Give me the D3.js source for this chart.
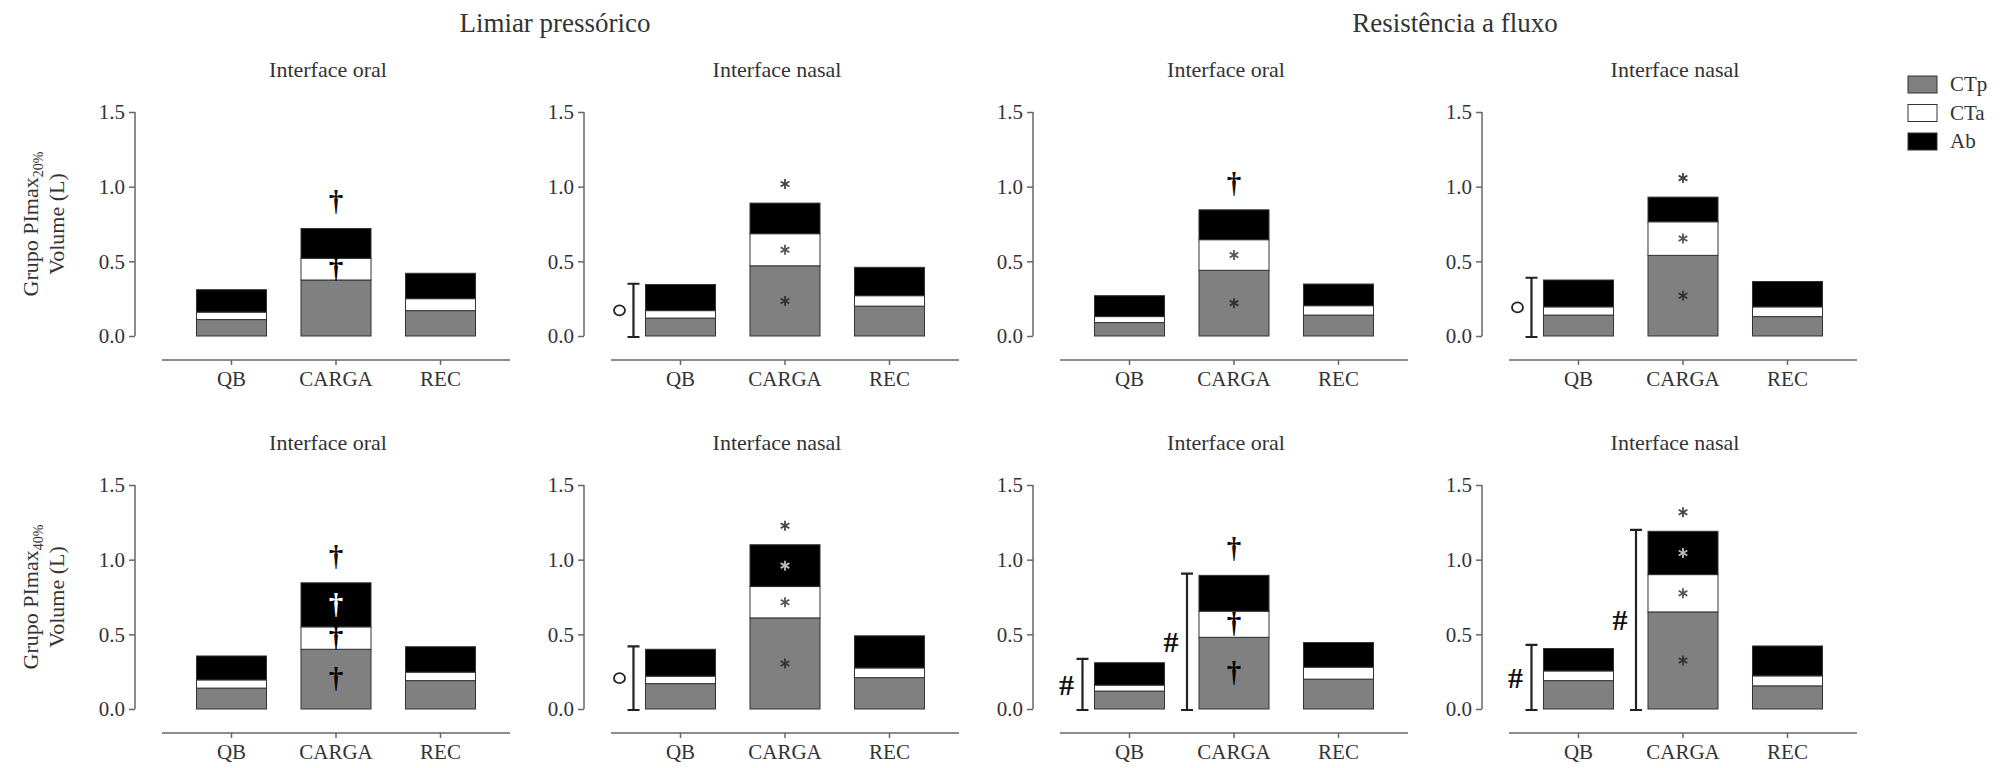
<!DOCTYPE html>
<html>
<head>
<meta charset="utf-8">
<script src="https://cdn.jsdelivr.net/npm/d3@7"></script>
<style>
  body { margin: 0; background: #fff; }
  svg text { font-family: "Liberation Serif", "DejaVu Serif", serif; fill: #333; }
</style>
</head>
<body>
<svg id="chart" width="2011" height="768"></svg>
<script>
var categories = ["QB", "CARGA", "REC"];
var segments = ["CTp", "CTa", "Ab"];
var segmentColors = ["#808080", "#ffffff", "#000000"];
var methodTitles = ["Limiar pressórico", "Resistência a fluxo"];
var interfaceTitles = ["Interface oral", "Interface nasal", "Interface oral", "Interface nasal"];
var groupLabels = ["20%", "40%"];
var yTicks = [0, 0.5, 1.0, 1.5];

// panels: top row (PImax20%) left to right, then bottom row (PImax40%)
var ctpValues = [
	[0.11, 0.375, 0.17], [0.12, 0.47, 0.20], [0.09, 0.44, 0.14], [0.14, 0.54, 0.13],
	[0.14, 0.40, 0.19], [0.17, 0.61, 0.21], [0.12, 0.48, 0.20], [0.19, 0.65, 0.155]
];
var ctaValues = [
	[0.05, 0.145, 0.08], [0.05, 0.215, 0.07], [0.04, 0.205, 0.063], [0.055, 0.225, 0.065],
	[0.055, 0.15, 0.057], [0.05, 0.21, 0.065], [0.04, 0.175, 0.08], [0.065, 0.25, 0.067]
];
var abValues = [
	[0.15, 0.20, 0.17], [0.175, 0.205, 0.19], [0.14, 0.20, 0.145], [0.18, 0.165, 0.17],
	[0.16, 0.295, 0.17], [0.18, 0.28, 0.215], [0.15, 0.24, 0.165], [0.15, 0.29, 0.20]
];

// significance marks: panel, category, segment (3 = above bar), symbol
var marks = [
	[0, 1, 3, "†"], [0, 1, 1, "†"],
	[1, 1, 3, "*"], [1, 1, 1, "*"], [1, 1, 0, "*"],
	[2, 1, 3, "†"], [2, 1, 1, "*"], [2, 1, 0, "*"],
	[3, 1, 3, "*"], [3, 1, 1, "*"], [3, 1, 0, "*"],
	[4, 1, 3, "†"], [4, 1, 2, "†"], [4, 1, 1, "†"], [4, 1, 0, "†"],
	[5, 1, 3, "*"], [5, 1, 2, "*"], [5, 1, 1, "*"], [5, 1, 0, "*"],
	[6, 1, 3, "†"], [6, 1, 1, "†"], [6, 1, 0, "†"],
	[7, 1, 3, "*"], [7, 1, 2, "*"], [7, 1, 1, "*"], [7, 1, 0, "*"]
];
// brackets: panel, category, top value, symbol
var brackets = [
	[1, 0, 0.35, "o"], [3, 0, 0.39, "o"], [5, 0, 0.42, "o"],
	[6, 0, 0.335, "#"], [6, 1, 0.906, "#"], [7, 0, 0.43, "#"], [7, 1, 1.2, "#"]
];

var svg = d3.select("#chart");
var axisColor = "#666";
var firstAxisX = 135, colStep = 449;
var rowBase = [336, 709];
var plotHeight = 224;

// main titles
methodTitles.forEach(function(t, i){
	svg.append("text")
		.attr("x", [555, 1455][i])
		.attr("y", 32)
		.attr("text-anchor", "middle")
		.attr("font-size", 27)
		.text(t);
});

// y titles
groupLabels.forEach(function(g, r){
	var midY = rowBase[r] - plotHeight/2;
	var t1 = svg.append("text")
		.attr("transform", "translate(30," + midY + ") rotate(-90)")
		.attr("text-anchor", "middle")
		.attr("dy", "0.35em")
		.attr("font-size", 22);
	t1.append("tspan").text("Grupo PImax");
	t1.append("tspan").attr("font-size", 14).attr("dy", 5).text(g);
	svg.append("text")
		.attr("transform", "translate(56," + midY + ") rotate(-90)")
		.attr("text-anchor", "middle")
		.attr("dy", "0.35em")
		.attr("font-size", 22)
		.text("Volume (L)");
});

function asterisk(g, x, y, color)
{
	var r = 5;
	for(var k = 0; k < 3; k++)
	{
		var a = Math.PI/2 + k*Math.PI/3;
		g.append("line")
			.attr("x1", x - r*Math.cos(a)).attr("y1", y - r*Math.sin(a))
			.attr("x2", x + r*Math.cos(a)).attr("y2", y + r*Math.sin(a))
			.attr("stroke", color).attr("stroke-width", 1.8);
	}
}

for(var p = 0; p < 8; p++)
{
	var row = Math.floor(p/4), col = p % 4;
	var ax = firstAxisX + col*colStep;
	var y0 = rowBase[row];
	var g = svg.append("g").attr("class", "panel-" + p);

	var x = d3.scaleBand().domain(categories).range([ax + 27, ax + 375]).padding(0.33);
	var y = d3.scaleLinear().domain([0, 1.5]).range([y0, y0 - plotHeight]);

	g.append("text")
		.attr("x", ax + 193)
		.attr("y", y0 - plotHeight - 35)
		.attr("text-anchor", "middle")
		.attr("font-size", 22)
		.text(interfaceTitles[col]);

	var yAxis = g.append("g")
		.attr("transform", "translate(" + ax + ",0)")
		.call(d3.axisLeft(y).tickValues(yTicks).tickFormat(d3.format(".1f")).tickSize(6).tickPadding(4));
	yAxis.select(".domain").attr("stroke", axisColor).attr("stroke-width", 1.5).attr("d", "M0," + y(1.5) + "V" + y(0));
	yAxis.selectAll(".tick line").attr("stroke", axisColor).attr("stroke-width", 1.5);
	yAxis.selectAll(".tick text").attr("font-size", 21).attr("fill", "#555")
		.attr("font-family", "Liberation Serif");

	var xAxis = g.append("g")
		.attr("transform", "translate(0," + (y0 + 24) + ")")
		.call(d3.axisBottom(x).tickSize(5).tickSizeOuter(0).tickPadding(6));
	xAxis.select(".domain").attr("stroke", axisColor).attr("stroke-width", 1.5)
		.attr("d", "M" + (ax + 27) + ",0H" + (ax + 375));
	xAxis.selectAll(".tick line").attr("stroke", axisColor).attr("stroke-width", 1.5);
	xAxis.selectAll(".tick text").attr("font-size", 21).attr("fill", "#333")
		.attr("font-family", "Liberation Serif");

	var rows = categories.map(function(c, i){
		return { cat: c, CTp: ctpValues[p][i], CTa: ctaValues[p][i], Ab: abValues[p][i] };
	});
	var stacked = d3.stack().keys(segments)(rows);

	g.selectAll("g.layer")
		.data(stacked).enter()
		.append("g")
		.attr("class", "layer")
		.attr("fill", function(d, i){ return segmentColors[i]; })
		.selectAll("rect")
		.data(function(d){ return d; }).enter()
		.append("rect")
		.attr("x", function(d){ return x(d.data.cat); })
		.attr("width", x.bandwidth())
		.attr("y", function(d){ return y(d[1]); })
		.attr("height", function(d){ return y(d[0]) - y(d[1]); })
		.attr("stroke", "#333")
		.attr("stroke-width", 1);

	marks.filter(function(m){ return m[0] === p; }).forEach(function(m){
		var cat = categories[m[1]];
		var cx = x(cat) + x.bandwidth()/2;
		var top = stacked[2][m[1]][1];
		var cy, color;
		if(m[2] === 3)
		{
			cy = y(top) - (m[3] === "†" ? 26 : 19);
			color = m[3] === "†" ? "#111" : "#444";
		}
		else
		{
			var seg = stacked[m[2]][m[1]];
			cy = (y(seg[0]) + y(seg[1]))/2;
			color = m[2] === 2 ? "#fff" : (m[2] === 1 ? "#555" : "#333");
			if(m[3] === "*" && m[2] === 2) color = "#bbb";
			if(m[3] === "†" && m[2] !== 2) color = "#000";
		}
		if(m[3] === "*")
		{
			asterisk(g, cx, cy, color);
		}
		else
		{
			g.append("text")
				.attr("x", cx)
				.attr("y", cy)
				.attr("dy", "0.3em")
				.attr("text-anchor", "middle")
				.attr("font-size", 29)
				.attr("font-weight", "bold")
				.style("fill", color)
				.text(m[3]);
		}
	});

	brackets.filter(function(b){ return b[0] === p; }).forEach(function(b){
		var bx = x(categories[b[1]]) - 12;
		var yt = y(b[2]), yb = y(0) + 1;
		g.append("path")
			.attr("d", "M" + bx + "," + yt + "V" + yb + "M" + (bx - 6) + "," + yt + "H" + (bx + 6) + "M" + (bx - 6) + "," + yb + "H" + (bx + 6))
			.attr("stroke", "#222").attr("stroke-width", 2.2).attr("fill", "none");
		var my = (yt + yb)/2;
		if(b[3] === "o")
		{
			g.append("ellipse")
				.attr("cx", bx - 14).attr("cy", my)
				.attr("rx", 5.5).attr("ry", 5)
				.attr("fill", "none").attr("stroke", "#222").attr("stroke-width", 1.8);
		}
		else
		{
			g.append("text")
				.attr("x", bx - 16)
				.attr("y", my)
				.attr("dy", "0.35em")
				.attr("text-anchor", "middle")
				.attr("font-size", 30)
				.attr("font-weight", "bold")
				.style("fill", "#111")
				.text("#");
		}
	});
}

// legend
segments.forEach(function(s, i){
	var ly = 76 + i*28.5;
	svg.append("rect")
		.attr("x", 1908).attr("y", ly)
		.attr("width", 29).attr("height", 17)
		.attr("fill", segmentColors[i])
		.attr("stroke", "#333").attr("stroke-width", 1);
	svg.append("text")
		.attr("x", 1950).attr("y", ly + 15)
		.attr("font-size", 21)
		.text(s);
});
</script>
</body>
</html>
